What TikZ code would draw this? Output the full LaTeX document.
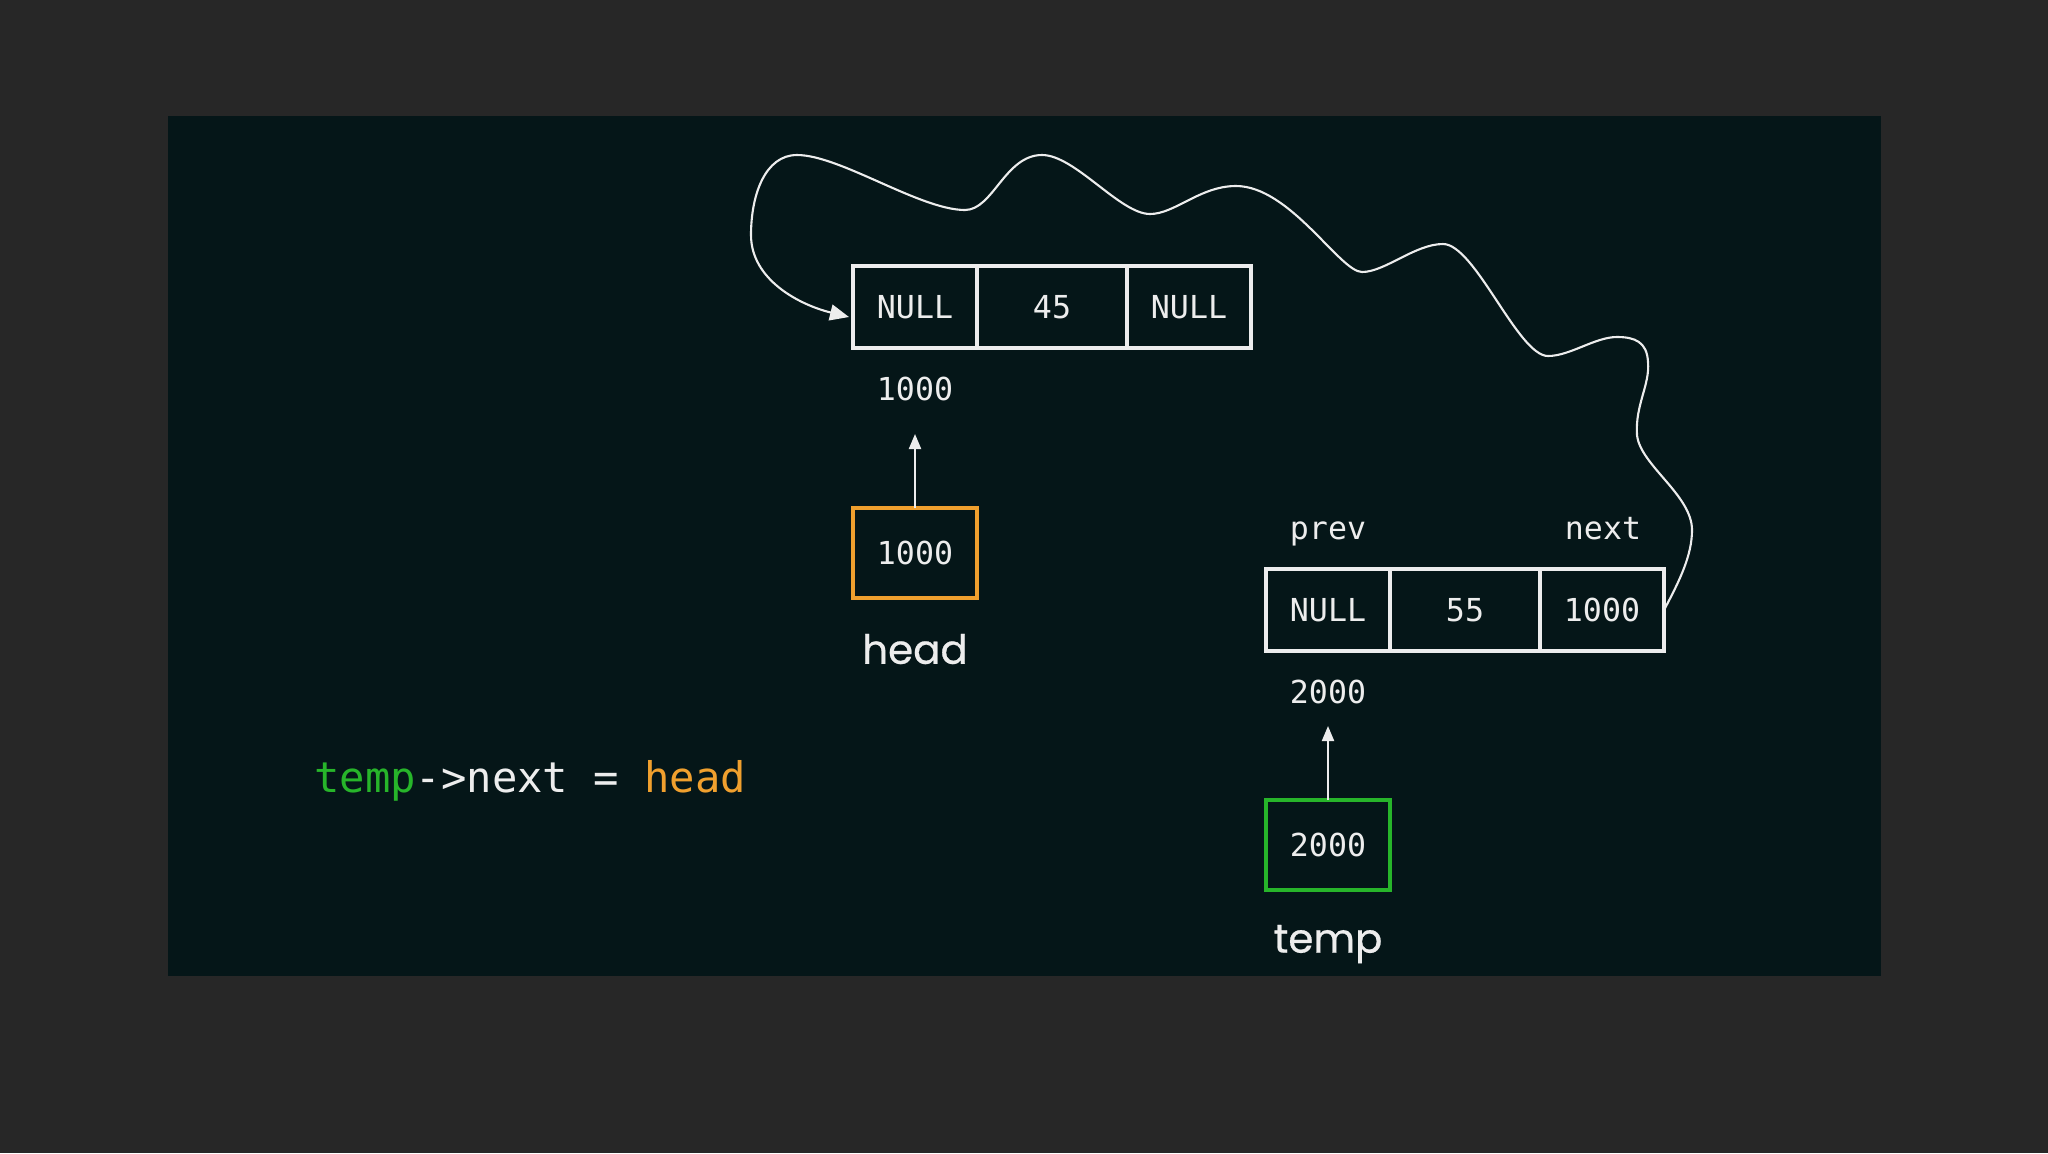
\documentclass[tikz,border=0pt]{standalone}
\usepackage{fontspec}
\newfontfamily\codefont{DejaVu Sans Mono}
\newfontfamily\labelfont[FakeBold=0.6]{Poppins}
\usetikzlibrary{positioning,arrows.meta,calc}
\definecolor{board}{HTML}{272727}
\definecolor{panel}{HTML}{051618}
\definecolor{chalk}{HTML}{EDEDED}
\definecolor{headorange}{HTML}{F0A02E}
\definecolor{tempgreen}{HTML}{27B52A}
\tikzset{
  cell/.style={draw=chalk, line width=0.9pt, minimum height=8.2mm, outer sep=0pt, inner sep=0pt,
    text=chalk, font=\codefont\fontsize{9}{11}\selectfont},
  addr/.style={text=chalk, font=\codefont\fontsize{9}{11}\selectfont},
  ptrbox/.style={line width=1.1pt, minimum width=12.4mm, minimum height=9mm, outer sep=0pt,
    text=chalk, font=\codefont\fontsize{9}{11}\selectfont},
  varname/.style={text=chalk, font=\labelfont\fontsize{11.5}{14}\selectfont},
  ptr/.style={draw=chalk, line width=0.6pt, -{Triangle[length=1.5mm, width=1.2mm]}},
  link/.style={draw=chalk, line width=0.6pt, -{Triangle[length=1.9mm, width=1.6mm]}},
}
\begin{document}
\begin{tikzpicture}[x=0.1mm, y=-0.1mm]
  % board and panel
  \fill[board] (0,0) rectangle (2048,1153);
  \fill[panel] (168,116) rectangle (1881,976);
  % node at 1000
  \node[cell, minimum width=12.4mm] (a1) at (915,307) {NULL};
  \node[cell, minimum width=15mm, right=0pt of a1] (a2) {45};
  \node[cell, minimum width=12.4mm, right=0pt of a2] (a3) {NULL};
  \node[addr] (addrA) at (915,389) {1000};
  % head pointer
  \node[ptrbox, draw=headorange] (hbox) at (915,553) {1000};
  \node[varname] (hname) at (915,649) {head};
  \coordinate (tipA) at (915,434);
  \draw[ptr] (hbox.north) -- (tipA);
  % node at 2000
  \node[cell, minimum width=12.4mm] (b1) at (1328,610) {NULL};
  \node[cell, minimum width=15mm, right=0pt of b1] (b2) {55};
  \node[cell, minimum width=12.4mm, right=0pt of b2] (b3) {1000};
  \node[addr, anchor=base] (prev) at (1328,539) {prev};
  \node[addr, anchor=base] (next) at (1603,539) {next};
  \node[addr] (addrB) at (1328,692) {2000};
  % temp pointer
  \node[ptrbox, draw=tempgreen] (tbox) at (1328,845) {2000};
  \node[varname] (tname) at (1328,944) {temp};
  \coordinate (tipB) at (1328,726);
  \draw[ptr] (tbox.north) -- (tipB);
  % temp->next link
  \draw[link] (b3.east)
    .. controls (1680,580) and (1692,555) .. (1692,530)
    .. controls (1692,495) and (1640,465) .. (1637,435)
    .. controls (1635,405) and (1650,385) .. (1648,362)
    .. controls (1647,342) and (1635,337) .. (1617,337)
    .. controls (1595,337) and (1570,356) .. (1548,356)
    .. controls (1518,356) and (1475,244) .. (1443,244)
    .. controls (1415,244) and (1385,272) .. (1362,272)
    .. controls (1340,272) and (1290,186) .. (1236,186)
    .. controls (1200,186) and (1175,214) .. (1150,214)
    .. controls (1120,214) and (1075,155) .. (1042,155)
    .. controls (1005,155) and (993,210) .. (965,210)
    .. controls (920,210) and (840,155) .. (797,155)
    .. controls (765,155) and (751,195) .. (751,235)
    .. controls (751,280) and (800,305) .. ($(a1.west)+(-4,10)$);
  % statement
  \node[anchor=west, text=chalk, font=\codefont\fontsize{12}{14}\selectfont] (stmt) at (302,781)
    {\textcolor{tempgreen}{temp}->next = \textcolor{headorange}{head}};
\end{tikzpicture}
\end{document}
